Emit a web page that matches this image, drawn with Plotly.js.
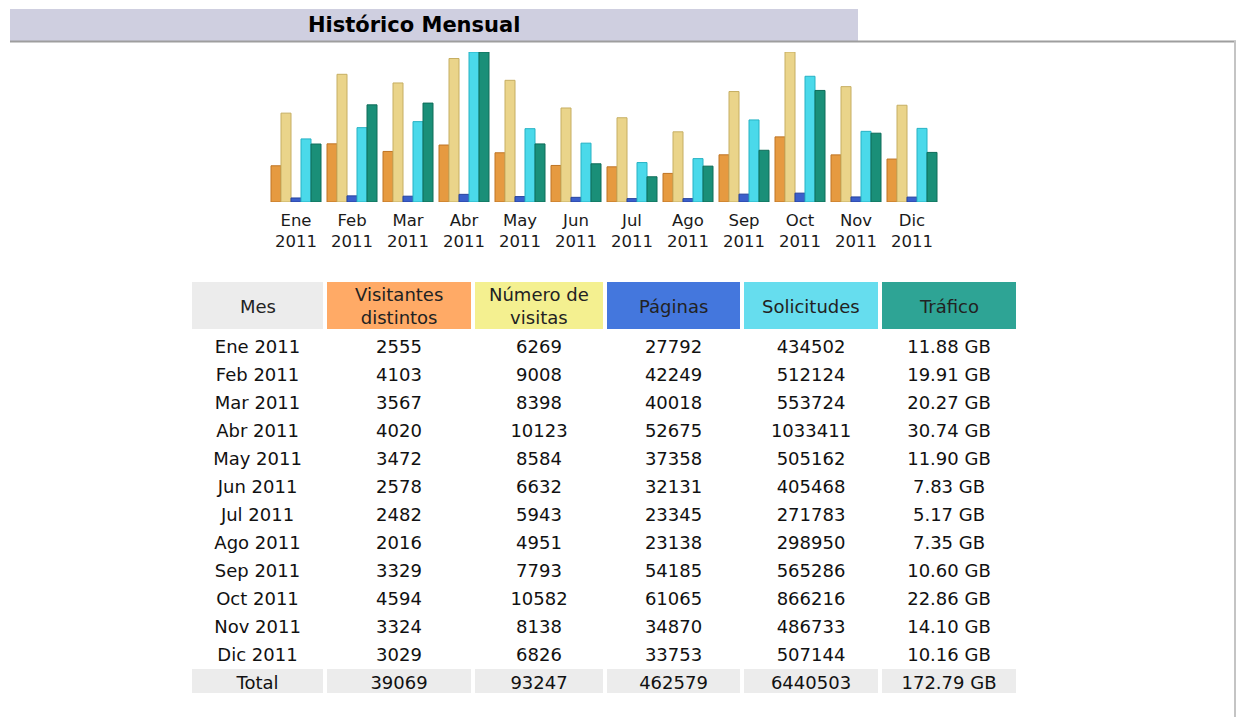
<!DOCTYPE html>
<html>
<head>
<meta charset="utf-8">
<script src="https://cdn.plot.ly/plotly-3.0.1.min.js"></script>
<style>
html,body{margin:0;padding:0;background:#fff;}
#chart{width:1238px;height:717px;}
</style>
</head>
<body>
<div id="chart"></div>
<script>
// ---- data ----
const months = ["Ene","Feb","Mar","Abr","May","Jun","Jul","Ago","Sep","Oct","Nov","Dic"];
const year = "2011";
const visitors = [2555,4103,3567,4020,3472,2578,2482,2016,3329,4594,3324,3029];
const visits   = [6269,9008,8398,10123,8584,6632,5943,4951,7793,10582,8138,6826];
const pages    = [27792,42249,40018,52675,37358,32131,23345,23138,54185,61065,34870,33753];
const hits     = [434502,512124,553724,1033411,505162,405468,271783,298950,565286,866216,486733,507144];
const trafficGB= [11.88,19.91,20.27,30.74,11.90,7.83,5.17,7.35,10.60,22.86,14.10,10.16];
const totals   = {label:"Total", visitors:"39069", visits:"93247", pages:"462579", hits:"6440503", traffic:"172.79 GB"};
const headers  = ["Mes","Visitantes<br>distintos","Número de<br>visitas","Páginas","Solicitudes","Tráfico"];
const chartTitle = "Histórico Mensual";

// ---- helpers (pixel -> paper) ----
const W = 1238, H = 717;
const px = x => x / W;
const py = y => 1 - y / H;

const tickLabels = months.map(m => m + "<br>" + year);
const FONT = "DejaVu Sans, Verdana, sans-serif";

const groupPitch = 56;          // pixels per month
const barPx = 10;               // bar width in pixels
const bw = barPx / groupPitch;  // in category units
const startOff = -25 / groupPitch;

function barTrace(vals, yax, idx, color, edge) {
  return {
    type: "bar", x: tickLabels, y: vals, yaxis: yax,
    width: bw, offset: startOff + idx * bw,
    marker: {color: color, line: {color: edge, width: 1}},
    hoverinfo: "y"
  };
}

const maxVisits = Math.max(...visits, ...visitors);
const maxHits = Math.max(...hits, ...pages);
const maxTraffic = Math.max(...trafficGB);

const traces = [
  barTrace(visitors, "y", 0, "#E69A40", "#BF7424"),
  barTrace(visits, "y", 1, "#EAD48A", "#C6AE62"),
  barTrace(pages, "y2", 2, "#3B5FCB", "#27439E"),
  barTrace(hits, "y2", 3, "#4AD9EA", "#27B2C4"),
  barTrace(trafficGB, "y3", 4, "#1A8F78", "#0E6C59")
];

// table
const white = "#FFFFFF", gray = "#ECECEC";
const headerColors = [gray, "#FFAA66", "#F4F090", "#4477DD", "#66DDEE", "#2EA495"];
const colWidths = [135, 148, 132, 137, 138, 138];
const tableLeft = 190, tableRight = 1018, tableTop = 280, headerH = 51;
const colFill = () => months.map(() => white).concat([gray]);
const tableCols = [
  months.map(m => m + " " + year).concat([totals.label]),
  visitors.map(String).concat([totals.visitors]),
  visits.map(String).concat([totals.visits]),
  pages.map(String).concat([totals.pages]),
  hits.map(String).concat([totals.hits]),
  trafficGB.map(v => v.toFixed(2) + " GB").concat([totals.traffic])
];

traces.push({
  type: "table",
  domain: {x: [px(tableLeft), px(tableRight)], y: [0, py(tableTop)]},
  columnwidth: colWidths,
  header: {
    values: headers.map(() => ""),
    align: "center",
    height: headerH,
    fill: {color: headerColors},
    line: {color: white, width: 4},
    font: {family: FONT, size: 16, color: "#222"}
  },
  cells: {
    values: tableCols,
    align: "center",
    height: 28,
    fill: {color: tableCols.map(colFill)},
    line: {color: white, width: 4},
    font: {family: FONT, size: 18, color: "#111"}
  }
});

// header labels, centred in each header cell (multi-line centred)
const sumW = colWidths.reduce((a, b) => a + b, 0);
const scale = (tableRight - tableLeft) / sumW;
let acc = tableLeft;
const headerAnn = headers.map((h, i) => {
  const cx = acc + colWidths[i] * scale / 2;
  acc += colWidths[i] * scale;
  return {
    xref: "paper", yref: "paper", x: px(cx), y: py(tableTop + headerH / 2 + 0.5),
    xanchor: "center", yanchor: "middle", align: "center",
    text: h, showarrow: false,
    font: {family: FONT, size: 18, color: "#222"}
  };
});

const layout = {
  width: W, height: H,
  margin: {l: 0, r: 0, t: 0, b: 0},
  paper_bgcolor: "#fff", plot_bgcolor: "rgba(0,0,0,0)",
  showlegend: false,
  barmode: "overlay",
  font: {family: FONT, color: "#222"},
  xaxis: {
    domain: [px(268), px(940)], type: "category", range: [-0.5, 11.5],
    showgrid: false, zeroline: false, showline: false, ticks: "",
    ticklabelstandoff: 6,
    tickfont: {family: FONT, size: 16.5, color: "#1a1a1a"}, fixedrange: true
  },
  yaxis: {domain: [py(202), py(52)], range: [0, maxVisits], visible: false, fixedrange: true},
  yaxis2: {overlaying: "y", range: [0, maxHits], visible: false, fixedrange: true},
  yaxis3: {overlaying: "y", range: [0, maxTraffic], visible: false, fixedrange: true},
  shapes: [
    {type: "rect", xref: "paper", yref: "paper", x0: px(10), x1: px(858), y0: py(41), y1: py(9),
     fillcolor: "#CFCFE0", line: {width: 0}, layer: "below"},
    {type: "line", xref: "paper", yref: "paper", x0: px(10), x1: px(1236), y0: py(41.5), y1: py(41.5),
     line: {color: "#9E9E9E", width: 2}},
    {type: "line", xref: "paper", yref: "paper", x0: px(1235), x1: px(1235), y0: py(41), y1: py(717),
     line: {color: "#C4C4C4", width: 2}}
  ],
  annotations: [
    {xref: "paper", yref: "paper", x: px(414), y: py(25), xanchor: "center", yanchor: "middle",
     text: "<b>" + chartTitle + "</b>", showarrow: false,
     font: {family: FONT, size: 21, color: "#000"}}
  ].concat(headerAnn)
};

Plotly.newPlot("chart", traces, layout, {displayModeBar: false, staticPlot: true});
</script>
</body>
</html>
